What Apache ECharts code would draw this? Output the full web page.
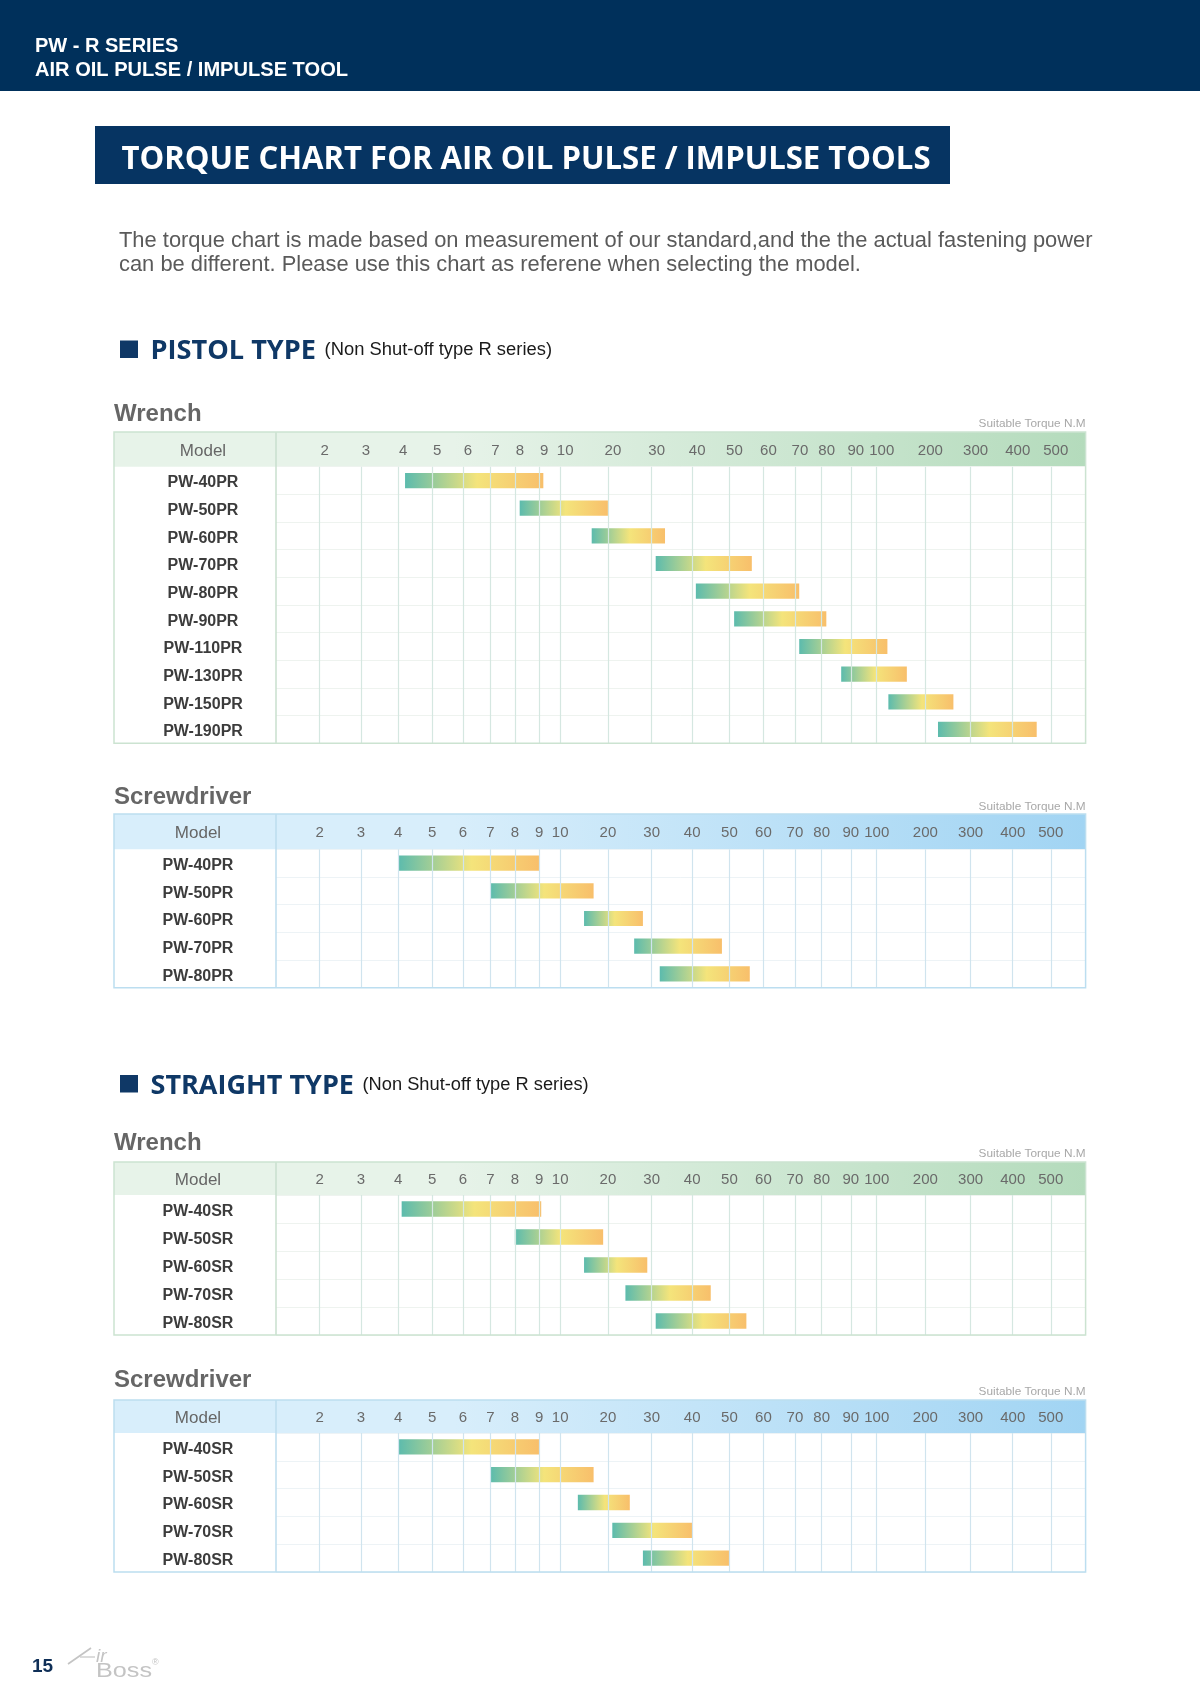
<!DOCTYPE html>
<html>
<head>
<meta charset="utf-8">
<title>Torque chart for air oil pulse / impulse tools</title>
<script src="https://cdn.jsdelivr.net/npm/echarts@6/dist/echarts.min.js"></script>
<style>
  html, body { margin: 0; padding: 0; background: #fff; }
  #page { width: 1200px; height: 1697px; }
</style>
</head>
<body>
<div id="page"></div>
<script>
// torque labels printed across the head of every table (N.m)
const tickValues = [2, 3, 4, 5, 6, 7, 8, 9, 10, 20, 30, 40, 50, 60, 70, 80, 90, 100, 200, 300, 400, 500]

// pistol type - wrench
const pistolWrenchModels = ['PW-40PR', 'PW-50PR', 'PW-60PR', 'PW-70PR', 'PW-80PR', 'PW-90PR', 'PW-110PR', 'PW-130PR', 'PW-150PR', 'PW-190PR']
const pistolWrenchMin = [4.2, 8.2, 16.6, 31, 41, 51.4, 71.6, 86.7, 124, 228]
const pistolWrenchMax = [9.2, 20, 33.3, 56.6, 71.6, 81.6, 122, 162, 262, 463]

// pistol type - screwdriver
const pistolDriverModels = ['PW-40PR', 'PW-50PR', 'PW-60PR', 'PW-70PR', 'PW-80PR']
const pistolDriverMin = [4, 7, 15, 26, 32]
const pistolDriverMax = [9, 17, 28, 48, 56]

// straight type - wrench
const straightWrenchModels = ['PW-40SR', 'PW-50SR', 'PW-60SR', 'PW-70SR', 'PW-80SR']
const straightWrenchMin = [4.1, 8, 15, 24, 31]
const straightWrenchMax = [9.1, 19, 29, 45, 55]

// straight type - screwdriver
const straightDriverModels = ['PW-40SR', 'PW-50SR', 'PW-60SR', 'PW-70SR', 'PW-80SR']
const straightDriverMin = [4, 7, 13.7, 21, 28]
const straightDriverMax = [9, 17, 25, 40, 50]

// the printed torque scale is hand spaced (neither linear nor log):
// where each tick sits along the axis, in thousandths of its length
const axisStops = [54, 105, 151, 193, 231, 265, 295, 325, 351, 410, 464, 514, 560, 602, 641, 674, 710, 742, 802, 858, 910, 957]

function toAxis (v) {
  let i = 0
  while (i < tickValues.length - 2 && v > tickValues[i + 1]) i++
  const t = (v - tickValues[i]) / (tickValues[i + 1] - tickValues[i])
  return axisStops[i] + t * (axisStops[i + 1] - axisStops[i])
}

function tickLabel (value) {
  const i = axisStops.findIndex(s => Math.abs(s - value) < 0.01)
  return i < 0 ? '' : String(tickValues[i])
}

const measureCtx = document.createElement('canvas').getContext('2d')
function textWidth (text, font) {
  measureCtx.font = font
  return measureCtx.measureText(text).width
}
function hasFont (name) {
  const probe = 'Suitable 100 Wrench'
  return textWidth(probe, '40px monospace') !== textWidth(probe, '40px "' + name + '", monospace')
}
const narrowFont = hasFont('Liberation Sans Narrow') ? 'Liberation Sans Narrow' : null
const tickFont = narrowFont ? { family: narrowFont, size: 17 } : { family: 'Liberation Sans', size: 15 }

const GREEN = {
  headFrom: '#e7f3e9', headTo: '#b4dbbc', border: '#cce3d1', grid: '#d5e7e1', row: '#eef3ef', divider: '#c8dfce'
}
const BLUE = {
  headFrom: '#d8eefb', headTo: '#a1d4f3', border: '#bcdef0', grid: '#d0e4ee', row: '#edf3f6', divider: '#bcdcee'
}

const tables = [
  { models: pistolWrenchModels, lo: pistolWrenchMin, hi: pistolWrenchMax, theme: GREEN, name: 'Wrench',
    nameY: 414, unitY: 424, headTop: 432, top: 466.7, bottom: 743.3, modelX: 203, shift: 5 },
  { models: pistolDriverModels, lo: pistolDriverMin, hi: pistolDriverMax, theme: BLUE, name: 'Screwdriver',
    nameY: 797, unitY: 807, headTop: 814, top: 849.3, bottom: 987.7, modelX: 198, shift: 0 },
  { models: straightWrenchModels, lo: straightWrenchMin, hi: straightWrenchMax, theme: GREEN, name: 'Wrench',
    nameY: 1143.5, unitY: 1153.5, headTop: 1162, top: 1195, bottom: 1335, modelX: 198, shift: 0 },
  { models: straightDriverModels, lo: straightDriverMin, hi: straightDriverMax, theme: BLUE, name: 'Screwdriver',
    nameY: 1380.5, unitY: 1391.5, headTop: 1400, top: 1433, bottom: 1572, modelX: 198, shift: 0 }
]

const tableLeft = 114
const axisLeft = 276
const axisWidth = 809.6

function text (str, x, y, o) {
  const family = o.family || 'Liberation Sans'
  const font = (o.style || 'normal') + ' ' + (o.weight || 'normal') + ' ' + o.size + 'px "' + family + '"'
  const sx = o.width ? o.width / textWidth(str, font) : 1
  return {
    type: 'text', x: x, y: y, scaleX: sx, z: 50,
    style: {
      text: str, font: font, fill: o.color || '#333',
      align: o.align || 'left', verticalAlign: 'middle',
      textAlign: o.align || 'left', textVerticalAlign: 'middle'
    }
  }
}

const barFill = new echarts.graphic.LinearGradient(0, 0, 1, 0, [
  { offset: 0, color: '#5cbbad' },
  { offset: 0.52, color: '#f4e47b' },
  { offset: 1, color: '#f8bf6b' }
])

function renderBar (params, api) {
  const row = api.value(0)
  const a = api.coord([toAxis(api.value(1)), row])
  const b = api.coord([toAxis(api.value(2)), row])
  const h = api.size([0, 1])[1] * 0.55
  return {
    type: 'rect',
    shape: { x: a[0], y: a[1] - h / 2, width: b[0] - a[0], height: h },
    style: { fill: barFill }
  }
}

const grids = []
const xAxes = []
const yAxes = []
const series = []
const graphics = []

// page header
graphics.push({ type: 'rect', z: 1, shape: { x: 0, y: 0, width: 1200, height: 91 }, style: { fill: '#00305b' } })
graphics.push(text('PW - R SERIES', 35, 46, { size: 20, weight: 'bold', color: '#fff' }))
graphics.push(text('AIR OIL PULSE / IMPULSE TOOL', 35, 70.5, { size: 20, weight: 'bold', color: '#fff', width: 313 }))

graphics.push({ type: 'rect', z: 1, shape: { x: 95, y: 126, width: 855, height: 58 }, style: { fill: '#063462' } })
graphics.push(text('TORQUE CHART FOR AIR OIL PULSE / IMPULSE TOOLS', 121.5, 159.5, {
  size: 33, weight: 'bold', family: 'Open Sans', color: '#fff', width: 809
}))

const intro1 = 'The torque chart is made based on measurement of our standard,and the the actual fastening power'
const intro2 = 'can be different. Please use this chart as referene when selecting the model.'
const introFont = 20 * 974 / textWidth(intro1, '20px "Liberation Sans"')
graphics.push(text(intro1, 119, 241, { size: introFont, color: '#5a5a5a' }))
graphics.push(text(intro2, 119, 265, { size: introFont, color: '#5a5a5a' }))

// section headings
function section (title, y, titleEnd, noteX, noteEnd) {
  graphics.push({ type: 'rect', z: 1, shape: { x: 120, y: y - 9, width: 18, height: 17.5 }, style: { fill: '#0f3866' } })
  graphics.push(text(title, 150.5, y + 2, { size: 27, weight: 'bold', family: 'Open Sans', color: '#0f3866', width: titleEnd - 150.5 }))
  graphics.push(text('(Non Shut-off type R series)', noteX, y + 1, { size: 18, color: '#1a1a1a', width: noteEnd - noteX }))
}
section('PISTOL TYPE', 349.5, 316, 324.6, 552)
section('STRAIGHT TYPE', 1084, 354, 362.5, 588.6)

tables.forEach((t, k) => {
  const th = t.theme
  // frame, head band and model column
  graphics.push({
    type: 'rect', z: 0,
    shape: { x: tableLeft, y: t.headTop, width: axisLeft + axisWidth - tableLeft, height: t.top - t.headTop },
    style: { fill: new echarts.graphic.LinearGradient(0, 0, 1, 0, [
      { offset: 0, color: th.headFrom }, { offset: 0.35, color: th.headFrom }, { offset: 1, color: th.headTo }
    ]) }
  })
  graphics.push({
    type: 'line', z: 40,
    shape: { x1: axisLeft, y1: t.headTop, x2: axisLeft, y2: t.bottom },
    style: { stroke: th.divider, lineWidth: 1.5 }
  })
  graphics.push({
    type: 'rect', z: 40,
    shape: { x: tableLeft, y: t.headTop, width: axisLeft + axisWidth - tableLeft, height: t.bottom - t.headTop },
    style: { fill: null, stroke: th.border, lineWidth: 1.5 }
  })
  graphics.push(text('Model', t.modelX, (t.headTop + t.top) / 2 + 1.5, { size: 17, color: '#666', align: 'center' }))
  graphics.push(text(t.name, 114, t.nameY, { size: 24, weight: 'bold', color: '#666' }))
  graphics.push(text('Suitable Torque N.M', 1085.5, t.unitY, { size: 11.8, color: '#a8a8a8', align: 'right' }))

  grids.push({ left: axisLeft, top: t.top, width: axisWidth, height: t.bottom - t.top })
  xAxes.push({
    gridIndex: k, type: 'value', position: 'top', min: 0, max: 1000, z: 10,
    axisLine: { show: false },
    axisTick: { show: false, customValues: axisStops },
    axisLabel: {
      customValues: axisStops, formatter: tickLabel,
      margin: (t.top - t.headTop) / 2 - 1.5, verticalAlign: 'middle',
      color: '#6a6a6a', fontFamily: tickFont.family, fontSize: tickFont.size,
      padding: [0, 0, 0, t.shift * 2]
    },
    splitLine: { show: true, lineStyle: { color: th.grid, width: 1.2 } }
  })
  yAxes.push({
    gridIndex: k, type: 'category', inverse: true, data: t.models, z: 10,
    axisLine: { show: false },
    axisTick: { show: false },
    axisLabel: {
      align: 'center', margin: axisLeft - t.modelX,
      formatter: '{m|{value}}',
      rich: {
        m: {
          color: '#3c3c3c', fontWeight: 'bold', fontSize: 16, fontFamily: 'Liberation Sans',
          padding: [5, 0, 0, 0]
        }
      }
    },
    splitLine: { show: true, interval: 0, lineStyle: { color: th.row, width: 1 } }
  })
  series.push({
    type: 'custom', xAxisIndex: k, yAxisIndex: k, z: 5,
    renderItem: renderBar,
    encode: { x: [1, 2], y: 0 },
    data: t.models.map((m, i) => [i, t.lo[i], t.hi[i]])
  })
})

// footer
graphics.push(text('15', 32, 1667, { size: 19, weight: 'bold', color: '#0f2f57' }))
graphics.push({ type: 'line', z: 50, shape: { x1: 68, y1: 1664, x2: 91, y2: 1648 }, style: { stroke: '#c4c4c4', lineWidth: 1.6 } })
graphics.push({ type: 'line', z: 50, shape: { x1: 80, y1: 1657, x2: 95, y2: 1657 }, style: { stroke: '#c4c4c4', lineWidth: 1.2 } })
graphics.push(text('ir', 96, 1657, { size: 19, color: '#c4c4c4', style: 'italic' }))
graphics.push(text('Boss', 96, 1671, { size: 20, color: '#c4c4c4', width: 56 }))
graphics.push(text('®', 152, 1663, { size: 9, color: '#c4c4c4' }))

const chart = echarts.init(document.getElementById('page'))
chart.setOption({
  backgroundColor: '#fff',
  animation: false,
  grid: grids,
  xAxis: xAxes,
  yAxis: yAxes,
  series: series,
  graphic: { elements: graphics }
})
</script>
</body>
</html>
